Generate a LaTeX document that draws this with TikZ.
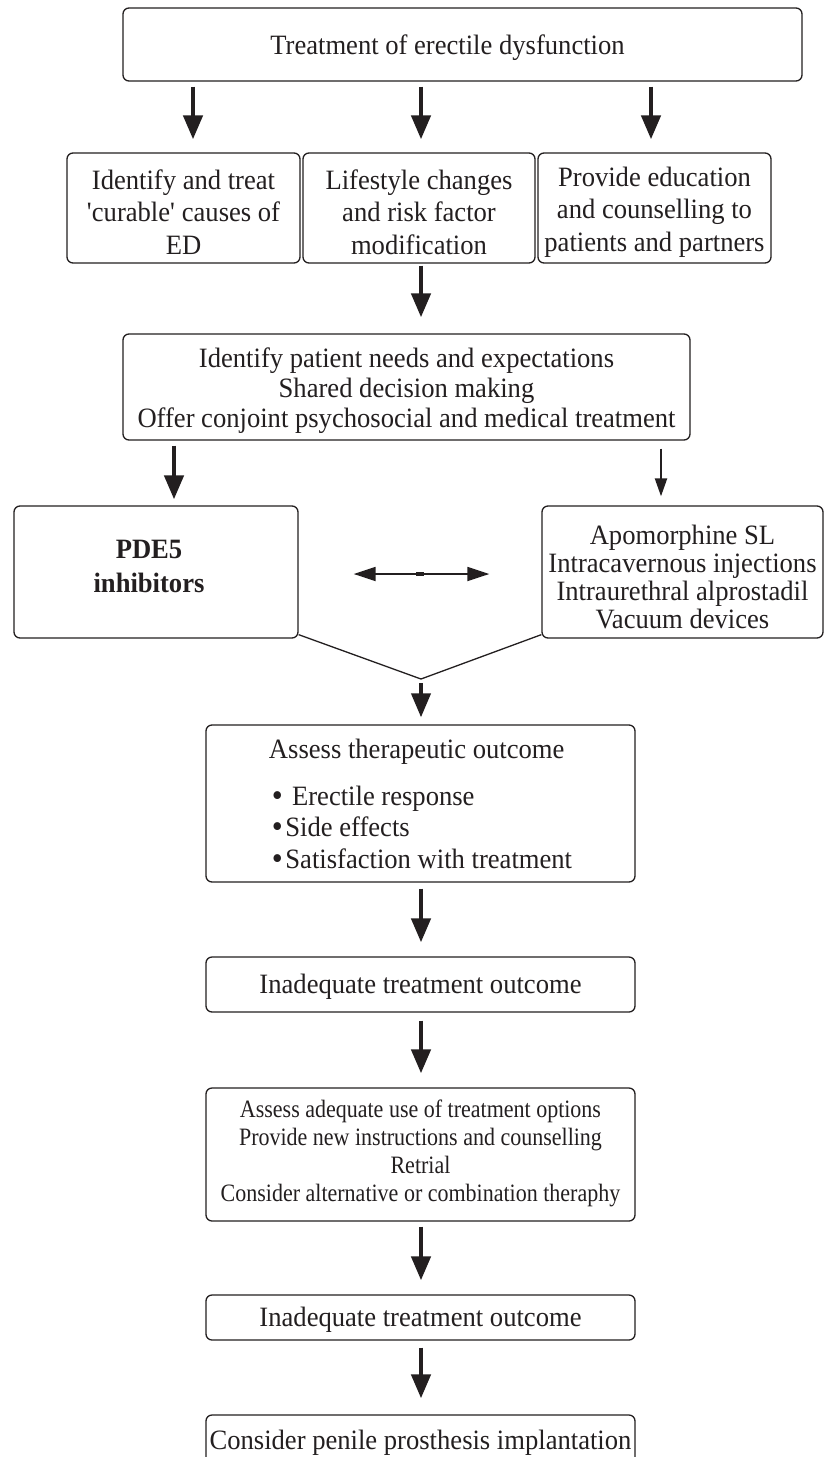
\documentclass[tikz,border=0pt]{standalone}
\usepackage{fontspec}
\setmainfont{Liberation Serif}[FakeStretch=0.95]
\newfontfamily\condfont[FakeStretch=0.88]{Liberation Serif}
\usetikzlibrary{arrows.meta,calc}
\definecolor{ink}{HTML}{231F20}
\newcommand{\bigbul}{\smash{\raisebox{-1pt}{\fontsize{33}{28}\selectfont\textbullet}}\kern2.5pt}
\begin{document}
\begin{tikzpicture}[x=1pt,y=-1pt,
  box/.style={draw=ink, line width=1.3pt, rounded corners=6pt, inner sep=0pt},
  txt/.style={inner sep=0pt, align=center, text=ink, font=\fontsize{28}{32.5}\selectfont},
  arr/.style={draw=ink, line width=4.5pt, -{Triangle[length=24pt,width=19pt]}},
  thinarr/.style={draw=ink, line width=2.2pt, -{Triangle[length=18pt,width=12pt]}},
  dblarr/.style={draw=ink, line width=1.8pt, {Triangle[length=22pt,width=14pt]}-{Triangle[length=22pt,width=14pt]}},
  vline/.style={draw=ink, line width=1.3pt}]
\useasboundingbox (0,0) rectangle (826,1457);
\clip (0,0) rectangle (826,1457);
\fill[white] (0,0) rectangle (826,1457);

% boxes
\node[box, minimum width=679pt, minimum height=73pt] (top) at (462.5,44.5) {};
\node[box, minimum width=233pt, minimum height=110pt] (b1) at (183.5,208) {};
\node[box, minimum width=232pt, minimum height=110pt] (b2) at (419,208) {};
\node[box, minimum width=233pt, minimum height=110pt] (b3) at (654.5,208) {};
\node[box, minimum width=567pt, minimum height=106pt] (needs) at (406.5,387) {};
\node[box, minimum width=284pt, minimum height=132pt] (pde) at (156,572) {};
\node[box, minimum width=281pt, minimum height=132pt] (alt) at (682.5,572) {};
\node[box, minimum width=429pt, minimum height=157pt] (assess) at (420.5,803.5) {};
\node[box, minimum width=429pt, minimum height=55pt] (inad1) at (420.5,984.5) {};
\node[box, minimum width=429pt, minimum height=133pt] (adeq) at (420.5,1154.5) {};
\node[box, minimum width=429pt, minimum height=45pt] (inad2) at (420.5,1317.5) {};
\node[box, minimum width=429pt, minimum height=50pt] (prost) at (420.5,1440) {};

% texts
\node[txt] (topT) at ([xshift=-15pt,yshift=-3pt]top.center) {Treatment of erectile dysfunction};
\node[txt] (b1T) at ([yshift=-4pt]b1.center) {Identify and treat\\\textquotesingle curable\textquotesingle\ causes of\\ED};
\node[txt] (b2T) at ([yshift=-4pt]b2.center) {Lifestyle changes\\and risk factor\\modification};
\node[txt] (b3T) at ([yshift=-4pt]b3.center) {Provide education\\and counselling to\\patients and partners};
\node[txt, font=\fontsize{28}{30}\selectfont] (needsT) at ([yshift=-4pt]needs.center) {Identify patient needs and expectations\\Shared decision making\\Offer conjoint psychosocial and medical treatment};
\node[txt, font=\bfseries\fontsize{28}{34}\selectfont] (pdeT) at ([xshift=-7pt,yshift=6pt]pde.center) {PDE5\\inhibitors};
\node[txt, font=\fontsize{28}{28}\selectfont] (altT) at ([yshift=-5pt]alt.center) {Apomorphine SL\\Intracavernous injections\\Intraurethral alprostadil\\Vacuum devices};
\node[txt, align=left, font=\fontsize{28}{31.5}\selectfont] (assessT) at (assess.center) {Assess therapeutic outcome\\[15.5pt]\hspace*{3pt}\bigbul\ Erectile response\\\hspace*{3pt}\bigbul Side effects\\\hspace*{3pt}\bigbul Satisfaction with treatment};
\node[txt] (inad1T) at ([yshift=-2pt]inad1.center) {Inadequate treatment outcome};
\node[txt, font=\condfont\fontsize{25}{28}\selectfont] (adeqT) at ([yshift=1.5pt]adeq.center) {Assess adequate use of treatment options\\Provide new instructions and counselling\\Retrial\\Consider alternative or combination theraphy};
\node[txt] (inad2T) at ([yshift=-2pt]inad2.center) {Inadequate treatment outcome};
\node[txt] (prostT) at ([yshift=-3pt]prost.center) {Consider penile prosthesis implantation};

% arrows from top
\draw[arr, shorten <=5pt, shorten >=13pt] ([xshift=9.5pt]b1.north |- top.south) -- ([xshift=9.5pt]b1.north);
\draw[arr, shorten <=5pt, shorten >=13pt] ([xshift=2pt]b2.north |- top.south) -- ([xshift=2pt]b2.north);
\draw[arr, shorten <=5pt, shorten >=13pt] ([xshift=-3.5pt]b3.north |- top.south) -- ([xshift=-3.5pt]b3.north);
\draw[arr, shorten <=2pt, shorten >=16pt] ([xshift=2pt]b2.south) -- ([xshift=2pt]b2.south |- needs.north);
\draw[arr, shorten <=5pt, shorten >=6pt] ([xshift=18pt]pde.north |- needs.south) -- ([xshift=18pt]pde.north);
\draw[thinarr, shorten <=8pt, shorten >=9pt] ([xshift=-21.5pt]alt.north |- needs.south) -- ([xshift=-21.5pt]alt.north);

% double arrow
\draw[dblarr, shorten <=55pt, shorten >=52pt] ([yshift=-2pt]pde.east) -- ([yshift=-2pt]alt.west);
\coordinate (mid) at ($(pde.east)!0.5!(alt.west)$);
\draw[ink, line width=3.5pt] ([xshift=-4pt,yshift=-2pt]mid) -- ([xshift=4pt,yshift=-2pt]mid);

% V junction
\coordinate (apex) at (421,679);
\draw[vline] ([yshift=4pt]pde.south east) -- (apex) -- ([yshift=4pt]alt.south west);
\draw[arr, line width=4pt, shorten <=4pt, shorten >=7pt] (apex) -- (apex |- assess.north);

\draw[arr, shorten <=6pt, shorten >=14pt] ([xshift=0.5pt]assess.south) -- ([xshift=0.5pt]inad1.north);
\draw[arr, shorten <=8pt, shorten >=14pt] ([xshift=0.5pt]inad1.south) -- ([xshift=0.5pt]adeq.north);
\draw[arr, shorten <=5pt, shorten >=14pt] ([xshift=0.5pt]adeq.south) -- ([xshift=0.5pt]inad2.north);
\draw[arr, shorten <=7pt, shorten >=16pt] ([xshift=0.5pt]inad2.south) -- ([xshift=0.5pt]prost.north);
\end{tikzpicture}
\end{document}
